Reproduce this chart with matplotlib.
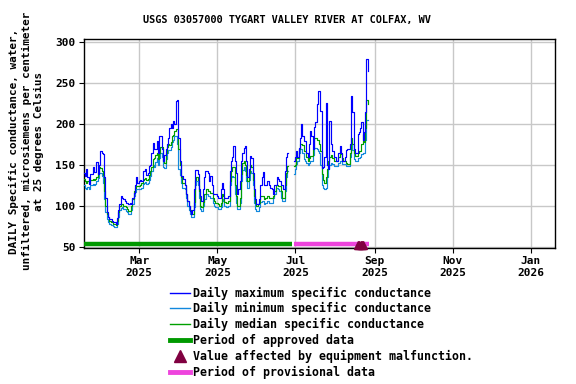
import numpy as np
import pandas as pd
import matplotlib
matplotlib.use("Agg")
import matplotlib.pyplot as plt
import matplotlib.dates as mdates
from matplotlib.lines import Line2D

# ---------------- data ----------------
start_date = "2025-01-17"
NaN = np.nan

daily_max = [
    140, 137, 145, 135, 127, 139, 139, 147, 141, 141, 153, 139, 150, 167, 165,
    163, 135, 110, 92, 86, 84, 84, 82, 80, 80, 78, 85, 95, 102, 112, 110, 108, 106, 104, 104, 102, 104, 102, 110, 116, 125, 135, 128,
    130, 132, 130, 143, 143, 145, 138, 140, 149, 150, 165, 177, 169, 169, 179, 165, 185, 185, 170, 155, 162, 170, 175, 183, 195, 200, 195, 204, 200, 228, 229,
    183, 155, 137, 137, 133, 125, 114, 106, 100, 94, 90, 95, 120, 144, 144, 139, 120, 112, 106, 120, 135, 143, 143, 140, 130, 137, 125, 114, 114, 114,
    112, 110, 110, 120, 128, 120, 110, 110, 110, 112, 143, 155, 160, 173, 155, 140, 114, 120, 130, 155, 165, 171, 173, 155, 135, 145, 161, 158, 140, 120, 108,
    102, 102, 108, 125, 135, 141, 125, 125, 130, 130, 125, 122, 120, 114, 126, 126, 135, 133, 130, 126, 126, 120, 143, 160, 165,
    NaN, NaN, NaN, NaN,
    155, 160, 167, 160, 171, 183, 200, 185, 179, 179, 165, 160, 175, 192, 185, 170, 196, 202, 225, 241, 241, 216, 146, 148, 160, 226, 150, 145, 204, 175,
    167, 167, 160, 155, 155, 165, 173, 165, 155, 155, 160, 168, 170, 170, 175, 234, 215, 170, 165, 165, 188, 190, 195, 203, 180, 190, 215, 279, 265,
]

daily_min = [
    126, 122, 120, 123, 120, 126, 125, 127, 126, 127, 130, 134, 140, 140, 137,
    128, 108, 92, 84, 80, 78, 77, 76, 75, 74, 74, 78, 86, 95, 97, 98, 96, 96, 94, 92, 90, 90, 95, 102, 112, 117, 120, 120,
    120, 120, 122, 127, 128, 129, 127, 128, 132, 136, 142, 150, 148, 153, 158, 150, 158, 165, 160, 148, 146, 157, 165, 168, 168, 172, 178, 180, 185, 185, 175,
    145, 138, 128, 122, 122, 120, 110, 100, 95, 90, 86, 86, 98, 126, 130, 126, 110, 96, 94, 100, 108, 108, 114, 112, 112, 110, 110, 104, 100, 98,
    98, 96, 96, 98, 108, 106, 100, 98, 98, 100, 125, 135, 137, 135, 115, 104, 96, 96, 104, 130, 144, 148, 142, 130, 122, 132, 142, 140, 125, 104, 96,
    94, 94, 98, 105, 106, 106, 102, 104, 106, 106, 104, 104, 104, 110, 115, 122, 122, 120, 118, 110, 106, 106, 118, 135, 143,
    NaN, NaN, NaN, NaN,
    139, 145, 151, 155, 165, 169, 169, 165, 157, 155, 152, 150, 152, 155, 155, 162, 171, 171, 169, 167, 165, 150, 125, 122, 120, 122, 135, 145, 150, 152,
    151, 151, 149, 149, 149, 152, 155, 155, 151, 151, 151, 149, 149, 149, 160, 175, 168, 157, 155, 155, 159, 159, 160, 163, 165, 165, 180, 205, 205,
]

daily_median = [
    133, 130, 128, 130, 128, 132, 131, 133, 132, 133, 135, 140, 147, 146, 143,
    138, 118, 100, 90, 86, 82, 80, 80, 78, 78, 76, 82, 92, 100, 102, 102, 100, 100, 98, 96, 94, 94, 100, 108, 118, 122, 124, 124,
    124, 125, 128, 132, 133, 134, 132, 133, 138, 143, 148, 157, 158, 162, 165, 157, 165, 172, 172, 155, 152, 165, 172, 175, 174, 178, 185, 186, 192, 194, 194,
    170, 150, 135, 128, 128, 126, 115, 106, 100, 95, 90, 90, 105, 132, 135, 132, 118, 100, 98, 105, 114, 114, 120, 118, 118, 116, 116, 110, 106, 104,
    104, 102, 100, 104, 115, 112, 105, 104, 104, 106, 130, 143, 147, 147, 125, 112, 100, 100, 110, 139, 152, 155, 150, 138, 130, 140, 150, 148, 132, 112, 104,
    100, 102, 104, 112, 112, 112, 108, 110, 112, 112, 110, 110, 110, 112, 118, 126, 126, 124, 124, 118, 110, 110, 126, 140, 149,
    NaN, NaN, NaN, NaN,
    149, 150, 159, 159, 170, 175, 176, 174, 167, 167, 160, 155, 158, 161, 161, 170, 183, 183, 181, 181, 175, 167, 139, 132, 128, 135, 145, 155, 160, 162,
    159, 159, 155, 155, 155, 160, 163, 163, 158, 155, 155, 152, 151, 151, 165, 183, 175, 165, 161, 161, 165, 167, 167, 175, 188, 178, 195, 230, 225,
]

approved_period = ("2025-01-17", "2025-06-28")
provisional_period = ("2025-06-30", "2025-08-27")
malfunction_dates = ["2025-08-19", "2025-08-20", "2025-08-21", "2025-08-22", "2025-08-23"]
malfunction_level = 51.5
period_bar_level = 53.0

y_ticks = [50, 100, 150, 200, 250, 300]
month_ticks = ["2025-03-01", "2025-05-01", "2025-07-01", "2025-09-01", "2025-11-01", "2026-01-01"]
month_labels = ["Mar\n2025", "May\n2025", "Jul\n2025", "Sep\n2025", "Nov\n2025", "Jan\n2026"]
x_range = ("2025-01-16 19:00", "2026-01-19 19:00")
y_range = (48.4, 304.0)

title = "USGS 03057000 TYGART VALLEY RIVER AT COLFAX, WV"
ylabel = ("DAILY Specific conductance, water,\n"
          "unfiltered, microsiemens per centimeter\n"
          "at 25 degrees Celsius")
legend_labels = [
    "Daily maximum specific conductance",
    "Daily minimum specific conductance",
    "Daily median specific conductance",
    "Period of approved data",
    "Value affected by equipment malfunction.",
    "Period of provisional data",
]

# ---------------- styles ----------------
C_MAX = "#0000ff"
C_MIN = "#1188dd"
C_MED = "#00a000"
C_APP = "#009900"
C_PROV = "#ee44dd"
C_MAL = "#800040"
GRID = "#c8c8c8"

plt.rcParams["font.family"] = ["DejaVu Sans Mono"]
plt.rcParams["font.weight"] = "bold"

fig = plt.figure(figsize=(5.76, 3.84), dpi=100)
ax = fig.add_axes([84 / 576, 1 - 248 / 384, (555 - 84) / 576, (248 - 39) / 384])

dates = pd.date_range(start_date, periods=len(daily_max), freq="D")

ax.plot(dates, daily_max, color=C_MAX, lw=0.85, drawstyle="steps-mid", zorder=4)
ax.plot(dates, daily_min, color=C_MIN, lw=0.85, drawstyle="steps-mid", zorder=3)
ax.plot(dates, daily_median, color=C_MED, lw=0.85, drawstyle="steps-mid", zorder=3.5)

half = pd.Timedelta(hours=12)
ax.plot([pd.Timestamp(approved_period[0]) - half, pd.Timestamp(approved_period[1]) + half],
        [period_bar_level] * 2, color=C_APP, lw=3.2, solid_capstyle="butt", zorder=5)
ax.plot([pd.Timestamp(provisional_period[0]) - half, pd.Timestamp(provisional_period[1]) + half],
        [period_bar_level] * 2, color=C_PROV, lw=3.2, solid_capstyle="butt", zorder=5)
ax.plot(pd.to_datetime(malfunction_dates), [malfunction_level] * len(malfunction_dates),
        ls="none", marker="^", ms=5.5, color=C_MAL, mec=C_MAL, zorder=6, clip_on=False)

ax.set_xlim(pd.Timestamp(x_range[0]), pd.Timestamp(x_range[1]))
ax.set_ylim(*y_range)
ax.set_yticks(y_ticks)
ax.set_xticks(pd.to_datetime(month_ticks))
ax.set_xticklabels(month_labels)
ax.grid(True, color=GRID, lw=1.0, zorder=0)
ax.set_axisbelow(True)
ax.tick_params(axis="both", direction="out", length=3.5, width=0.8, labelsize=8, pad=2.5, color="black")
for lab in ax.get_xticklabels() + ax.get_yticklabels():
    lab.set_fontweight("bold")
for s in ax.spines.values():
    s.set_linewidth(1.0)
    s.set_color("black")

fig.text(0.498, 1 - 20 / 384, title, ha="center", va="center", fontsize=7.4, fontweight="bold")
fig.text(26.5 / 576, 1 - 141 / 384, ylabel, rotation=90, ha="center", va="center",
         multialignment="center", fontsize=7.9, fontweight="bold", linespacing=1.25)

handles = [
    Line2D([], [], color=C_MAX, lw=1.0),
    Line2D([], [], color=C_MIN, lw=1.0),
    Line2D([], [], color=C_MED, lw=1.0),
    Line2D([], [], color=C_APP, lw=3.5),
    Line2D([], [], ls="none", marker="^", ms=8, color=C_MAL),
    Line2D([], [], color=C_PROV, lw=3.5),
]
leg = fig.legend(handles, legend_labels, loc="upper left", bbox_to_anchor=(170 / 576, 1 - 286.5 / 384),
                 frameon=False, fontsize=8.4, handlelength=1.7, handletextpad=0.28,
                 labelspacing=0.24, borderaxespad=0, borderpad=0)
for t in leg.get_texts():
    t.set_fontweight("bold")

fig.savefig("out.png", dpi=100)
